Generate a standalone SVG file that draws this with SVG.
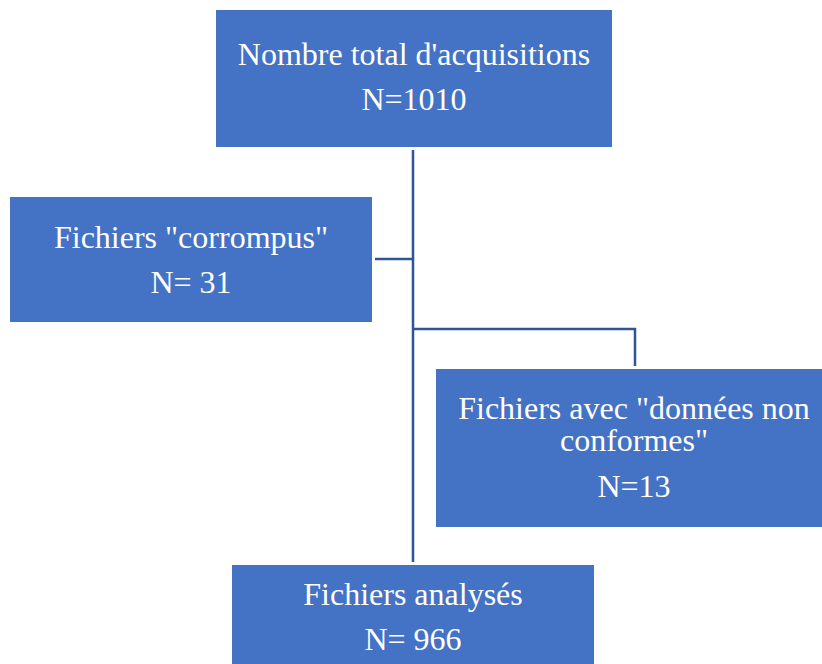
<svg xmlns="http://www.w3.org/2000/svg" width="822" height="664" viewBox="0 0 822 664">
<style>
.box{fill:#4472C4}
.t{font-family:"Liberation Serif","Times New Roman",serif;font-size:32px;fill:#ffffff;text-anchor:middle}
.c{fill:none;stroke:#2F5597;stroke-width:2.5}
</style>
<rect width="822" height="664" fill="#ffffff"/>
<g id="connectors">
<path class="c" d="M413 150 V562"/>
<path class="c" d="M375 259 H413"/>
<path class="c" d="M413 329 H635 V366"/>
</g>
<g id="n1">
<rect class="box" x="216" y="10" width="396" height="137"/>
<text class="t" x="414" y="65">Nombre total d'acquisitions</text>
<text class="t" x="414" y="110">N=1010</text>
</g>
<g id="n2">
<rect class="box" x="10" y="197" width="362" height="125"/>
<text class="t" x="191" y="248">Fichiers "corrompus"</text>
<text class="t" x="191" y="293">N= 31</text>
</g>
<g id="n3">
<rect class="box" x="436" y="369" width="386" height="158"/>
<text class="t" x="634" y="419">Fichiers avec "données non</text>
<text class="t" x="634" y="451">conformes"</text>
<text class="t" x="634" y="497">N=13</text>
</g>
<g id="n4">
<rect class="box" x="232" y="565" width="362" height="99"/>
<text class="t" x="413" y="605">Fichiers analysés</text>
<text class="t" x="413" y="650">N= 966</text>
</g>
</svg>
